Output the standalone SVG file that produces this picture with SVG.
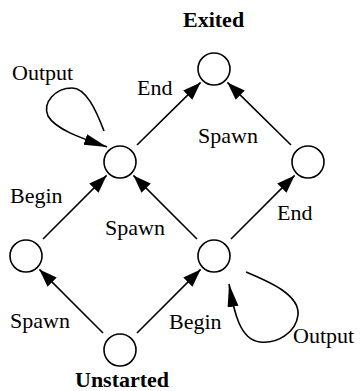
<svg xmlns="http://www.w3.org/2000/svg" width="361" height="391" viewBox="0 0 361 391">
<defs>
<style>
.node{fill:#fff;stroke:#000;stroke-width:1.6}
.edge{fill:none;stroke:#000;stroke-width:1.6;marker-end:url(#ah)}
.loop{fill:none;stroke:#000;stroke-width:1.6;marker-end:url(#ahl)}
text{font-family:"Liberation Serif","Times New Roman",serif;font-size:22px;fill:#000}
.b{font-weight:bold}
</style>
<marker id="ah" markerUnits="userSpaceOnUse" markerWidth="19" markerHeight="14" refX="18" refY="6.5" orient="auto">
<path d="M0,0 L18,6.5 L0,13 z" fill="#000"/>
</marker>
<marker id="ahl" markerUnits="userSpaceOnUse" markerWidth="25" markerHeight="13" refX="23" refY="5.5" orient="auto">
<path d="M0,0 L23,5.5 L0,11 z" fill="#000"/>
</marker>
</defs>
<g id="connectors">
<path class="edge" d="M137,145 L200.6,82.4"/>
<path class="edge" d="M291,145 L227.4,82.4"/>
<path class="edge" d="M197,239 L133.4,175.4"/>
<path class="edge" d="M231,239 L294.6,175.4"/>
<path class="edge" d="M43,239 L106.6,175.4"/>
<path class="edge" d="M103,333 L39.4,269.4"/>
<path class="edge" d="M137,333 L200.6,269.4"/>
<path class="loop" d="M104,131 C96,110 86,88 72,88 C56,88 42,102 48,116 C56,130 84,139 107,147"/>
<path class="loop" d="M246,272 C270,282 300,295 298,315 C296,332 278,344 260,342 C240,340 234,312 229,284"/>
</g>
<g id="exited"><circle class="node" cx="214" cy="69" r="16"/><text class="b" x="183" y="27">Exited</text></g>
<g id="nodeA"><circle class="node" cx="120" cy="162" r="16"/></g>
<g id="nodeB"><circle class="node" cx="308" cy="162" r="16"/></g>
<g id="nodeC"><circle class="node" cx="26" cy="256" r="16"/></g>
<g id="nodeD"><circle class="node" cx="214" cy="256" r="16"/></g>
<g id="unstarted"><circle class="node" cx="120" cy="350" r="16"/><text class="b" x="75" y="387">Unstarted</text></g>
<g id="labels">
<text x="12" y="80">Output</text>
<text x="137" y="95">End</text>
<text x="198" y="143">Spawn</text>
<text x="10" y="203">Begin</text>
<text x="105" y="235">Spawn</text>
<text x="277" y="220">End</text>
<text x="10" y="328">Spawn</text>
<text x="169" y="329">Begin</text>
<text x="293" y="343">Output</text>
</g>
</svg>
